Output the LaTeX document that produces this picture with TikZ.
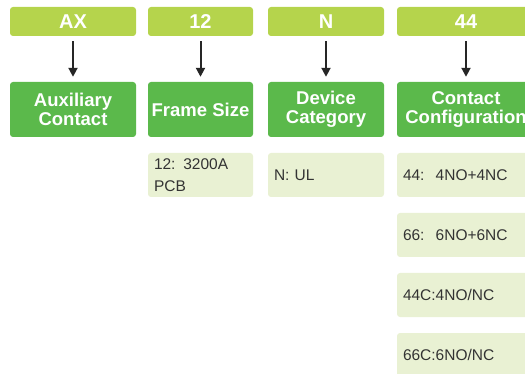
\documentclass[tikz,border=0pt]{standalone}
\usepackage{fontspec}
\setmainfont{Liberation Sans}
\usetikzlibrary{arrows.meta}
\definecolor{codegreen}{HTML}{B5D44C}
\definecolor{catgreen}{HTML}{5BB94B}
\definecolor{optgreen}{HTML}{E9F1D3}
\definecolor{opttext}{HTML}{333333}

\begin{document}
\begin{tikzpicture}[x=1pt,y=-1pt,
	code/.style={fill=codegreen, text=white, font=\fontsize{20}{22}\selectfont\bfseries,
		rounded corners=3pt, minimum height=29pt, inner sep=0pt},
	cat/.style={fill=catgreen, text=white, font=\fontsize{18.5}{19.5}\selectfont\bfseries,
		align=center, rounded corners=3pt, minimum height=55pt, inner sep=0pt},
	opt/.style={fill=optgreen, text=opttext, font=\fontsize{15.5}{22.5}\selectfont,
		align=left, rounded corners=3pt, minimum height=44pt, inner xsep=6pt, inner ysep=0pt},
	link/.style={draw=black!85, line width=2pt, shorten <=5pt, shorten >=5pt,
		-{Triangle[width=9pt,length=9pt]}}]
	\useasboundingbox (0,0) rectangle (525,374);
	\clip (0,0) rectangle (525,374);
	% code letters
	\node[code, minimum width=126pt] (ax) at (73,21.5) {AX};
	\node[code, minimum width=105pt] (frame) at (200.5,21.5) {12};
	\node[code, minimum width=116pt] (dev) at (326,21.5) {N};
	\node[code, minimum width=138pt] (cont) at (466,21.5) {44};
	% categories
	\node[cat, minimum width=126pt] (axcat) at (73,109.5) {Auxiliary\\Contact};
	\node[cat, minimum width=105pt] (framecat) at (200.5,109.5) {Frame Size};
	\node[cat, minimum width=116pt] (devcat) at (326,109.5) {Device\\Category};
	\node[cat, minimum width=138pt] (contcat) at (466,109.5) {Contact\\Configuration};
	% options
	\node[opt, text width=93pt] (frame12) at (200.5,175) {12: 3200A\\PCB};
	\node[opt, text width=104pt] (devul) at (326,175) {N: UL};
	\node[opt, text width=126pt] (cont44) at (466,175) {44:\hspace{0.72em}4NO+4NC};
	\node[opt, text width=126pt] (cont66) at (466,235) {66:\hspace{0.72em}6NO+6NC};
	\node[opt, text width=126pt] (cont44c) at (466,295) {44C:4NO/NC};
	\node[opt, text width=126pt] (cont66c) at (466,355) {66C:6NO/NC};
	% arrows
	\foreach \a/\b in {ax/axcat, frame/framecat, dev/devcat, cont/contcat}
		\draw[link] (\a) -- (\b);
\end{tikzpicture}
\end{document}
